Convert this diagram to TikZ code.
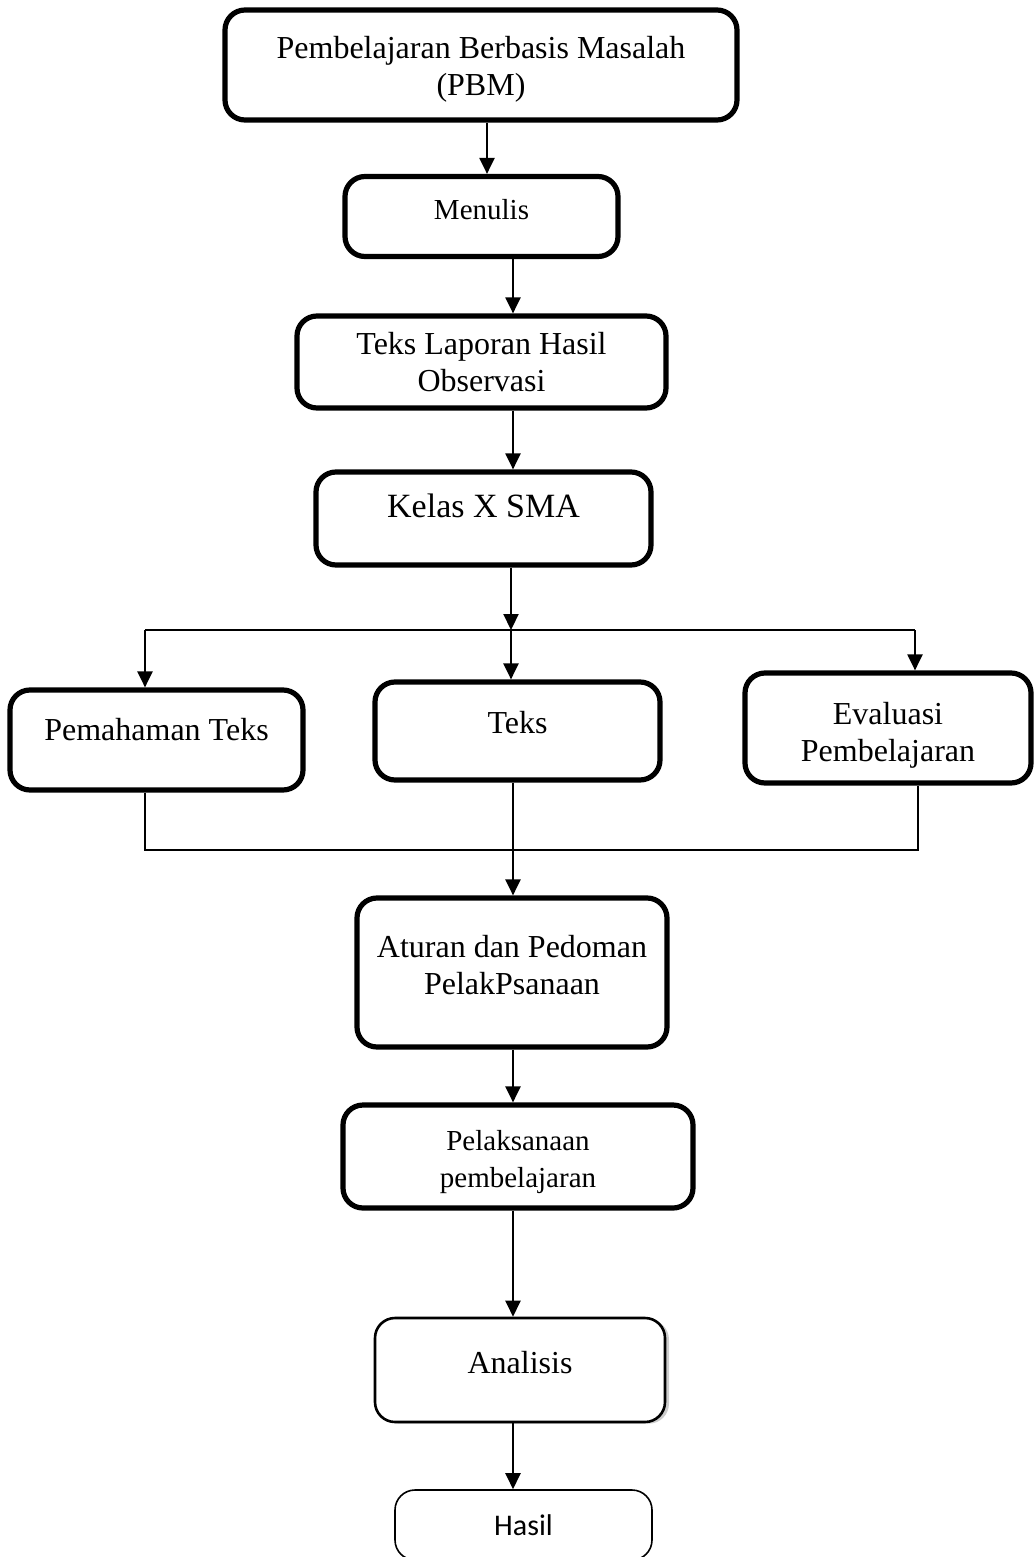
\documentclass[tikz,border=0pt]{standalone}
\usepackage{fontspec}
\setmainfont{Liberation Serif}
\newfontfamily\hasilfont{Carlito}
\usepackage{tikz}
\usetikzlibrary{arrows.meta,positioning,shadows}

% move a label up or down inside its box
\newcommand{\liftup}[2]{\raisebox{#1pt}[\dimexpr\height+#1pt\relax][\depth]{\begin{tabular}{@{}c@{}}#2\end{tabular}}}
\newcommand{\pushdown}[2]{\raisebox{-#1pt}[\height][\dimexpr\depth+#1pt\relax]{\begin{tabular}{@{}c@{}}#2\end{tabular}}}

\tikzset{
  flowbox/.style={draw, fill=white, rounded corners=10pt, line width=2.6pt, align=center,
    inner sep=2pt, font=\fontsize{16}{18.5}\selectfont},
  smallbox/.style={flowbox, font=\fontsize{14.5}{18.5}\selectfont},
  arr/.style={-{Triangle[length=8pt,width=7.5pt]}, line width=1.1pt},
  link/.style={line width=0.8pt}
}

\begin{document}
\begin{tikzpicture}[x=0.5pt,y=-0.5pt]
\useasboundingbox (0,0) rectangle (1033,1557);

% main column
\node[flowbox, minimum width=256pt, minimum height=55pt] (pbm) at (481,65)
  {\pushdown{5}{Pembelajaran Berbasis Masalah\\(PBM)}};
\node[smallbox, minimum width=136.5pt, minimum height=40pt] (menulis) at (481.5,216.5) {\liftup{4}{Menulis}};
\node[flowbox, minimum width=184.5pt, minimum height=46pt] (laporan) at (481.5,362)
  {Teks Laporan Hasil\\Observasi};
\node[flowbox, minimum width=167.5pt, minimum height=46.5pt, font=\fontsize{17}{20}\selectfont] (kelas) at (483.5,518.5) {\liftup{9}{Kelas X SMA}};

% three branches
\node[flowbox, minimum width=146.5pt, minimum height=50pt] (pemahaman) at (156.5,740) {\liftup{7}{Pemahaman Teks}};
\node[flowbox, minimum width=142.5pt, minimum height=49pt] (teks) at (517.5,731) {\liftup{5}{Teks}};
\node[flowbox, minimum width=143pt, minimum height=55pt] (evaluasi) at (888,728)
  {\pushdown{8}{Evaluasi\\Pembelajaran}};

% lower column
\node[flowbox, minimum width=155pt, minimum height=74.5pt] (aturan) at (512,972.5)
  {\liftup{4}{Aturan dan Pedoman\\PelakPsanaan}};
\node[smallbox, minimum width=175pt, minimum height=51.5pt] (pelaksanaan) at (518,1156.5)
  {\pushdown{5}{Pelaksanaan\\pembelajaran}};
\node[flowbox, line width=1.3pt, minimum width=145pt, minimum height=52pt,
  drop shadow={shadow xshift=2pt, shadow yshift=-0.8pt, opacity=0.4}] (analisis) at (520,1370) {\liftup{4}{Analisis}};
\node[flowbox, line width=0.8pt, minimum width=128.5pt, minimum height=35pt,
  font=\hasilfont\fontsize{15}{18}\selectfont] (hasil) at (523.5,1525) {Hasil};

% helper points
\coordinate (colA) at (487,0);
\coordinate (col) at (513,0);
\coordinate (split) at (511,630);
\coordinate (bl) at (145,630);
\coordinate (br) at (915,630);
\coordinate (jl) at (145,850);
\coordinate (jr) at (918,850);

% connectors
\draw[arr] (pbm.south -| colA) -- (menulis.north -| colA);
\draw[arr] (menulis.south -| col) -- (laporan.north -| col);
\draw[arr] (laporan.south -| col) -- (kelas.north -| col);
\draw[arr] (kelas.south -| split) -- (split);
\draw[link] (bl) -- (br);
\draw[arr] (bl) -- (bl |- pemahaman.north);
\draw[arr] (split) -- (split |- teks.north);
\draw[arr] (br) -- (br |- evaluasi.north);

\draw[link] (pemahaman.south -| jl) -- (jl) -- (jr) -- (evaluasi.south -| jr);
\draw[arr] (teks.south -| col) -- (aturan.north -| col);
\draw[arr] (aturan.south -| col) -- (pelaksanaan.north -| col);
\draw[arr] (pelaksanaan.south -| col) -- (analisis.north -| col);
\draw[arr] (analisis.south -| col) -- (hasil.north -| col);
\end{tikzpicture}
\end{document}
